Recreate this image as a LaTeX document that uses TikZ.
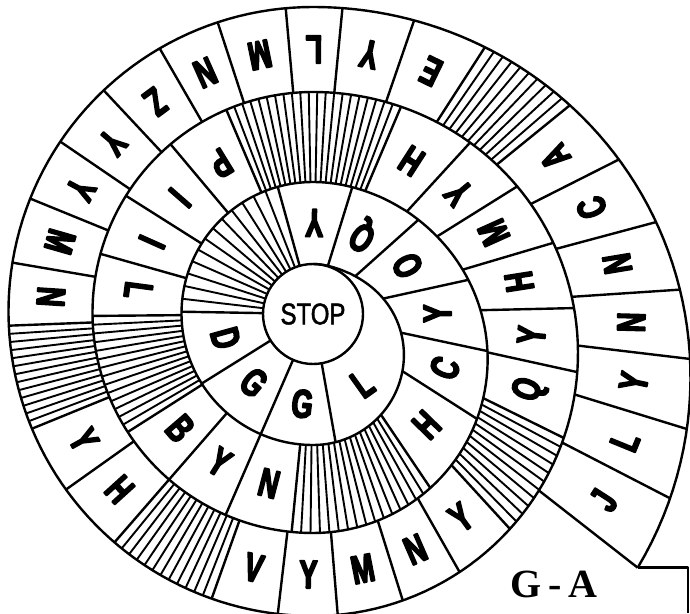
\documentclass[tikz,border=0pt]{standalone}
\usepackage{fontspec}
\newfontfamily\cellfont{Liberation Sans}[UprightFont={* Bold}, FakeStretch=0.68, FakeBold=4]
\newfontfamily\stopfont{Liberation Sans}[FakeStretch=0.8, FakeBold=1.5]
\newfontfamily\markfont{Liberation Serif}

\begin{document}
\begin{tikzpicture}[x=1pt, y=-1pt, line join=round,
    declare function={
      tk(\kk)=(\kk<0.5)?50:((\kk<1.5)?132:((\kk<2.5)?222:((\kk<3.5)?307:390)));
      bk(\kk)=(\kk<0.5)?131:((\kk<1.5)?219:((\kk<2.5)?302:437));
      ek(\kk)=(\kk<0.5)?1.4:((\kk<1.5)?1.25:1);
      mk(\pp)=floor((\pp+90)/360);
      sr(\pp)=(\pp<-90)?50:((\pp-360*mk(\pp)<90)?(tk(mk(\pp))+(bk(mk(\pp))-tk(mk(\pp)))*pow(0.0001+(1+sin(\pp))/2,ek(mk(\pp)))):(bk(mk(\pp))+(tk(mk(\pp)+1)-bk(mk(\pp)))*(1-sin(\pp))/2));
      ri(\pp)=sr(\pp-360);
    },
    edge line/.style={line width=2.4pt},
    hatch line/.style={line width=1.9pt},
    letter/.style={font=\cellfont\fontsize{40}{40}\selectfont, inner sep=0pt}]
    \useasboundingbox (-313,-314) rectangle (377,299);
    \node[circle, draw, edge line, minimum size=100pt, inner sep=0pt, font=\stopfont\fontsize{30}{30}\selectfont] (stop) at (0,0) {STOP};
    \draw[edge line] plot[domain=-90:1118, samples=605] (\x:{sr(\x)});
    \foreach \q in {80,113.5,148,181,254.5,287.2,318.2,347.6,372,392.6,416,455.6,473.5,491,507.5,539.5,555.8,572.3,590,607,653,672.5,688,703.5,718.7,732.4,746.3,767.5,780.4,792.6,805.3,816.7,829.6,851,864.6,877.8,897.8,909.7,922.2,934.3,946.9,960,971.9,984.9,995.5,1009,1022.8,1040.9,1053.2,1065,1076.2,1086.8,1097.1,1107.3,1118}
        \draw[edge line] (\q:{ri(\q)}) -- (\q:{sr(\q)});
    \foreach \ua/\ub/\n in {181/254.5/13, 416/455.6/16, 507.5/539.5/14, 607/653/21, 746.3/767.5/11, 829.6/851/12, 877.8/897.8/13, 1022.8/1040.9/10}{
        \pgfmathtruncatemacro\nlast{\n-1}
        \foreach \i in {1,...,\nlast}{
            \pgfmathsetmacro\q{\ua+(\ub-\ua)*\i/\n}
            \draw[hatch line] (\q:{ri(\q)}) -- (\q:{sr(\q)});
        }
    }
    \foreach \q/\lt [count=\i] in {54.6/L, 96.75/G, 130.75/G, 164.5/D, 270.85/Y,
        302.7/Q, 332.9/O, 359.8/Y, 382.3/C, 404.3/H,
        464.55/N, 482.25/Y, 499.25/B, 547.65/L, 564.05/I, 581.15/I, 598.5/P,
        662.75/H, 680.25/Y, 695.75/M, 711.1/H, 725.55/Y, 739.35/Q, 773.95/Y, 786.5/N, 798.95/M, 811/Y,
        823.15/V, 857.8/H, 871.2/Y, 903.75/N, 915.95/M, 928.25/Y, 940.6/Y, 953.45/Z, 965.95/N, 978.4/M, 990.2/L,
        1002.25/Y, 1015.9/E, 1047.05/A, 1059.1/C, 1070.6/N, 1081.5/N, 1091.95/Y, 1102.2/L, 1112.65/J}
        \node[letter, rotate=90-\q] (c\i) at (\q:{(ri(\q)+sr(\q))/2}) {\lt};
    \coordinate (tip) at (1118:{sr(1118)});
    \coordinate (gabottom) at (375,299);
    \draw[edge line] (tip) -| (gabottom);
    \node[font=\markfont\bfseries\fontsize{40}{40}\selectfont] (ga) at (241,270) {G\,-\,A};
\end{tikzpicture}
\end{document}
